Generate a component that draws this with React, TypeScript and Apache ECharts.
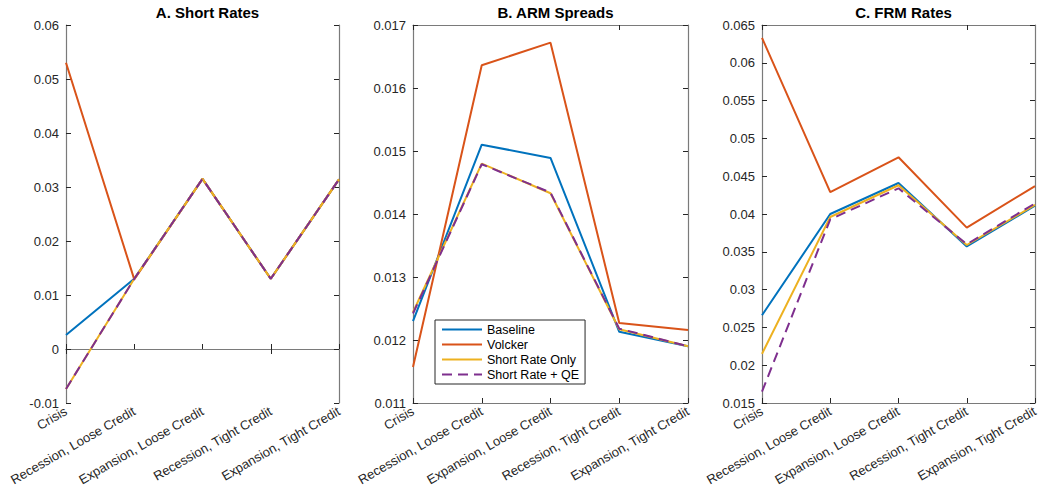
import React, { useEffect, useRef } from "react";
import * as echarts from "echarts";

const categories = [
  "Crisis",
  "Recession, Loose Credit",
  "Expansion, Loose Credit",
  "Recession, Tight Credit",
  "Expansion, Tight Credit",
];

const seriesNames = ["Baseline", "Volcker", "Short Rate Only", "Short Rate + QE"];
const panelTitles = ["A. Short Rates", "B. ARM Spreads", "C. FRM Rates"];

// Panel A: Short Rates
const shortBaseline = [0.0026, 0.013, 0.0315, 0.013, 0.0314];
const shortVolcker = [0.053, 0.0129, 0.0315, 0.013, 0.0314];
const shortOnly = [-0.0074, 0.013, 0.0315, 0.013, 0.0314];
const shortQE = [-0.0074, 0.013, 0.0315, 0.013, 0.0314];

// Panel B: ARM Spreads
const armBaseline = [0.0123, 0.0151, 0.01489, 0.01213, 0.0119];
const armVolcker = [0.01157, 0.01636, 0.01672, 0.01227, 0.01216];
const armShort = [0.01244, 0.0148, 0.01433, 0.01217, 0.0119];
const armQE = [0.01242, 0.01479, 0.01434, 0.01218, 0.0119];

// Panel C: FRM Rates
const frmBaseline = [0.0266, 0.04, 0.0441, 0.0357, 0.0411];
const frmVolcker = [0.0633, 0.0429, 0.0475, 0.0382, 0.0437];
const frmShort = [0.0215, 0.0396, 0.0438, 0.0359, 0.0412];
const frmQE = [0.0165, 0.0393, 0.0434, 0.036, 0.0414];

// y axis ranges
const yMin = [-0.01, 0.011, 0.015];
const yMax = [0.06, 0.017, 0.065];
const yStep = [0.01, 0.001, 0.005];

const colors = ["#0072BD", "#D95319", "#EDB120", "#7E2F8E"];
const FONT = "'Liberation Sans', Arial, Helvetica, sans-serif";

export default function App() {
  const ref = useRef<HTMLDivElement>(null);

  useEffect(() => {
    if (!ref.current) return;
    const chart = echarts.init(ref.current, undefined, { renderer: "svg" });

    const grids = [
      { left: 66, top: 25, width: 273, height: 378 },
      { left: 413, top: 25, width: 275, height: 378 },
      { left: 762, top: 25, width: 273, height: 378 },
    ];
    const panels = [
      [shortBaseline, shortVolcker, shortOnly, shortQE],
      [armBaseline, armVolcker, armShort, armQE],
      [frmBaseline, frmVolcker, frmShort, frmQE],
    ];

    const axisLine = { show: true, lineStyle: { color: "#7a7a7a", width: 1.2 } };
    const axisTick = { show: true, inside: true, length: 5, lineStyle: { color: "#262626", width: 1 } };

    const xAxis: any[] = [];
    const yAxis: any[] = [];
    grids.forEach((_, i) => {
      xAxis.push({
        type: "category",
        gridIndex: i,
        data: categories,
        boundaryGap: false,
        position: "bottom",
        axisLine,
        axisTick: { ...axisTick, alignWithLabel: true },
        axisLabel: {
          rotate: 30,
          margin: 7,
          color: "#262626",
          fontSize: 13,
          fontFamily: FONT,
          interval: 0,
        },
        splitLine: { show: false },
      });
      yAxis.push({
        type: "value",
        gridIndex: i,
        min: yMin[i],
        max: yMax[i],
        interval: yStep[i],
        position: "left",
        axisLine,
        axisTick,
        axisLabel: {
          color: "#262626",
          fontSize: 13,
          fontFamily: FONT,
          margin: 7,
          formatter: (v: number) => String(parseFloat(v.toFixed(4))),
        },
        splitLine: { show: false },
      });
    });
    grids.forEach((_, i) => {
      xAxis.push({
        type: "category",
        gridIndex: i,
        data: categories,
        boundaryGap: false,
        position: "top",
        axisLine,
        axisTick,
        axisLabel: { show: false },
        splitLine: { show: false },
      });
      yAxis.push({
        type: "value",
        gridIndex: i,
        min: yMin[i],
        max: yMax[i],
        interval: yStep[i],
        position: "right",
        axisLine,
        axisTick,
        axisLabel: { show: false },
        splitLine: { show: false },
      });
    });

    const series: any[] = [];
    panels.forEach((panel, i) => {
      panel.forEach((vals, k) => {
        series.push({
          name: seriesNames[k],
          type: "line",
          xAxisIndex: i,
          yAxisIndex: i,
          data: vals,
          symbol: "none",
          z: 2 + k,
          lineStyle: {
            color: colors[k],
            width: 2,
            type: k === 3 ? [10, 6] : "solid",
          },
          itemStyle: { color: colors[k] },
        });
      });
    });

    chart.setOption({
      animation: false,
      backgroundColor: "#ffffff",
      textStyle: { fontFamily: FONT },
      title: panelTitles.map((t, i) => ({
        text: t,
        left: grids[i].left + grids[i].width / 2,
        textAlign: "center",
        top: 0,
        textStyle: { fontSize: 15, fontWeight: "bold", color: "#000", fontFamily: FONT },
      })),
      grid: grids,
      xAxis,
      yAxis,
      legend: {
        data: seriesNames,
        orient: "vertical",
        left: 435,
        top: 320,
        padding: [3, 6, 3, 6],
        itemWidth: 40,
        itemHeight: 13,
        itemGap: 2,
        borderColor: "#262626",
        borderWidth: 1,
        backgroundColor: "#ffffff",
        itemStyle: { opacity: 0 },
        textStyle: { fontSize: 12.5, color: "#000", fontFamily: FONT, padding: [0, 0, 0, 0] },
        selectedMode: false,
      },
      series,
    });

    return () => chart.dispose();
  }, []);

  return (
    <div
      ref={ref}
      style={{ position: "fixed", left: 0, top: 0, width: 1043, height: 497 }}
    />
  );
}
